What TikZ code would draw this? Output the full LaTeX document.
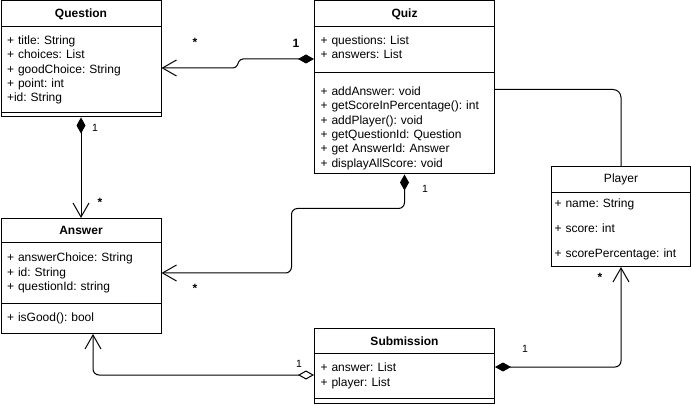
\documentclass[tikz,border=0pt]{standalone}
\usepackage{fontspec}
\setmainfont{Liberation Sans}
\usetikzlibrary{arrows.meta}
\frenchspacing

\begin{document}
\begin{tikzpicture}[x=1pt,y=-1pt]
    \tikzset{%
      box/.style={draw, anchor=north west, inner sep=0pt, line width=1pt},
      head/.style={box, font=\fontsize{12}{14.4}\selectfont\bfseries},
      body/.style={box, align=left, inner xsep=6pt,
        font=\fontsize{12}{14.4}\selectfont},
      lbl/.style={anchor=base, inner sep=0pt, font=\fontsize{10.5}{12}\selectfont},
      mult/.style={anchor=base, inner sep=0pt,
        font=\fontsize{12}{14}\selectfont\bfseries},
      comp/.style={line width=1pt, rounded corners=6pt,
        {Diamond[length=16pt,width=9pt]}-{Straight Barb[length=14pt,width=16pt]}},
      aggr/.style={line width=1pt, rounded corners=6pt,
        {Diamond[open,length=16pt,width=9pt]}-{Straight Barb[length=14pt,width=16pt]}},
      link/.style={line width=1pt, rounded corners=8pt},
    }
    \useasboundingbox (0,0) rectangle (691,406);

    \node[head, minimum width=160pt, minimum height=26pt] (qhead) at (0.5,0.5) {Question};
    \node[body, text width=148pt, minimum height=86pt] (qattr) at (0.5,26.5)
      {+ title: String\\+ choices: List\\+ goodChoice: String\\+ point: int\\+id: String};
    \node[body, text width=148pt, minimum height=4pt] (qfoot) at (0.5,112.5) {};

    \node[head, minimum width=180pt, minimum height=26pt] (zhead) at (314,0.5) {Quiz};
    \node[body, text width=168pt, minimum height=46pt] (zattr) at (314,26.5)
      {+ questions: List\\+ answers: List\rule[-6pt]{0pt}{6pt}};
    \node[body, text width=168pt, minimum height=101pt] (zmeth) at (314,72.5)
      {\rule{0pt}{18pt}+ addAnswer: void\\+ getScoreInPercentage(): int\\+ addPlayer(): void\\
       + getQuestionId: Question\\+ get AnswerId: Answer\\+ displayAllScore: void};

    \node[head, font=\fontsize{12}{14.4}\selectfont, minimum width=139pt,
      minimum height=26pt] (phead) at (551,166) {Player};
    \node[body, inner xsep=3pt, text width=133pt, minimum height=74pt] (pattr) at (551,192)
      {+ name: String\\[10.6pt]+ score: int\\[10.6pt]+ scorePercentage: int};

    \node[head, minimum width=160pt, minimum height=24pt] (ahead) at (0.5,218) {Answer};
    \node[body, text width=148pt, minimum height=61pt] (aattr) at (0.5,242)
      {+ answerChoice: String\\+ id: String\\+ questionId: string};
    \node[body, text width=148pt, minimum height=30pt] (ameth) at (0.5,303)
      {+ isGood(): bool};

    \node[head, minimum width=180pt, minimum height=25pt] (shead) at (314,328) {Submission};
    \node[body, text width=168pt, minimum height=45pt] (sattr) at (314,353)
      {+ answer: List\\+ player: List};
    \node[body, text width=168pt, minimum height=5pt] (sfoot) at (314,398) {};

    \draw [comp, rounded corners=3pt] ([yshift=-9pt]zattr.west) -- ++(-74,0)
      -- ++(-4,9) -- ([yshift=2pt]qattr.east);
    \draw [comp] (qfoot.south) -- (ahead.north);
    \draw [comp] (zmeth.south) -- ++(0,34) -- ++(-113,0) |- (aattr.east);
    \draw [aggr] ([yshift=1pt]sattr.west) -| ([xshift=12pt]ameth.south);
    \draw [comp] ([yshift=9pt]sattr.east) -| (pattr.south);
    \draw [link] ([yshift=34pt]zmeth.east) -| (phead.north);

    \node[mult] (qzs) at (195,47) {*};
    \node[mult] (qzo) at (296,47.5) {1};
    \node[lbl] (qao) at (95,132) {1};
    \node[mult] (qas) at (100,207) {*};
    \node[lbl] (zao) at (425,193) {1};
    \node[mult] (zas) at (195,293) {*};
    \node[lbl] (sao) at (299,367) {1};
    \node[lbl] (spo) at (525,352) {1};
    \node[mult] (sps) at (600,282) {*};
\end{tikzpicture}
\end{document}
